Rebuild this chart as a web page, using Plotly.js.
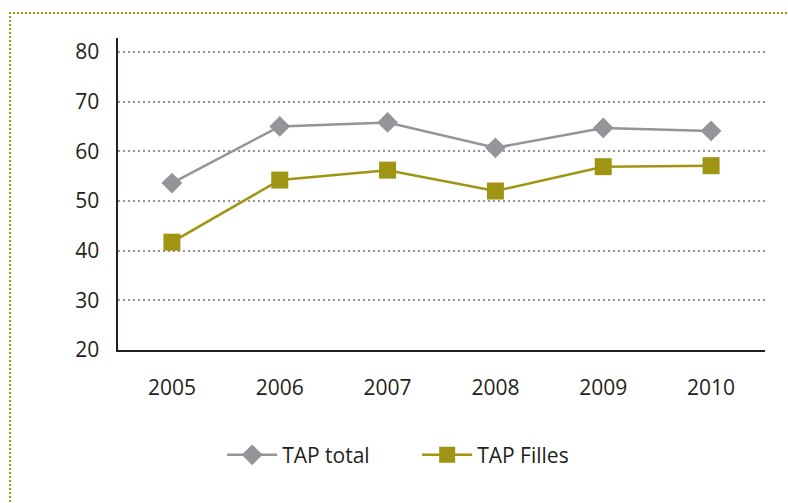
<!DOCTYPE html>
<html><head><meta charset="utf-8">
<script src="https://cdn.plot.ly/plotly-3.0.1.min.js"></script>
<style>
html,body{margin:0;padding:0;background:#fff;}
#wrap{position:relative;width:788px;height:503px;overflow:hidden;}
#frame{position:absolute;left:9px;top:12px;width:800px;height:520px;border-top:2px dotted #a39616;border-left:2px dotted #a39616;pointer-events:none;}
#chart{position:absolute;left:0;top:0;width:788px;height:503px;}
</style></head>
<body>
<div id="wrap"><div id="chart"></div><div id="frame"></div></div>
<script>
const years = ['2005','2006','2007','2008','2009','2010'];
const tapTotal = [53.6, 65.0, 65.8, 60.7, 64.7, 64.1];
const tapFilles = [41.7, 54.2, 56.2, 52.0, 56.9, 57.1];
const yTicks = [20,30,40,50,60,70,80];

const font = 'Open Sans, Lato, sans-serif';
const traces = [
  {x: years, y: tapTotal, name: 'TAP total', type: 'scatter', mode: 'lines+markers',
   line: {color: '#939598', width: 2.5}, marker: {symbol: 'diamond', size: 16, color: '#939598'}},
  {x: years, y: tapFilles, name: 'TAP Filles', type: 'scatter', mode: 'lines+markers',
   line: {color: '#a09413', width: 2.5}, marker: {symbol: 'square', size: 17, color: '#a09413'}}
];
const layout = {
  width: 788, height: 503,
  margin: {l: 118, r: 23, t: 38, b: 153},
  paper_bgcolor: 'rgba(0,0,0,0)', plot_bgcolor: 'rgba(0,0,0,0)',
  font: {family: font, size: 21, color: '#231f20'},
  showlegend: true,
  legend: {orientation: 'h', x: 0.161, xanchor: 'left', y: -0.337, yanchor: 'middle',
           font: {family: font, size: 21, color: '#231f20'}, itemwidth: 50, entrywidth: 130,
           traceorder: 'normal'},
  xaxis: {type: 'category', range: [-0.5, 5.5], showgrid: false, zeroline: false, showline: true,
          linecolor: '#231f20', linewidth: 2, ticks: '', ticklabelstandoff: 18,
          tickfont: {family: font, size: 21, color: '#231f20'}},
  yaxis: {range: [20, 82.8], tickvals: yTicks, showgrid: true, gridcolor: '#939598',
          gridwidth: 2, griddash: '2px,3px', zeroline: false, showline: true,
          linecolor: '#231f20', linewidth: 2.5, ticks: '', ticklabelstandoff: 12,
          tickfont: {family: font, size: 21, color: '#231f20'}}
};
Plotly.newPlot('chart', traces, layout, {displayModeBar: false, staticPlot: true});
</script>
</body></html>
